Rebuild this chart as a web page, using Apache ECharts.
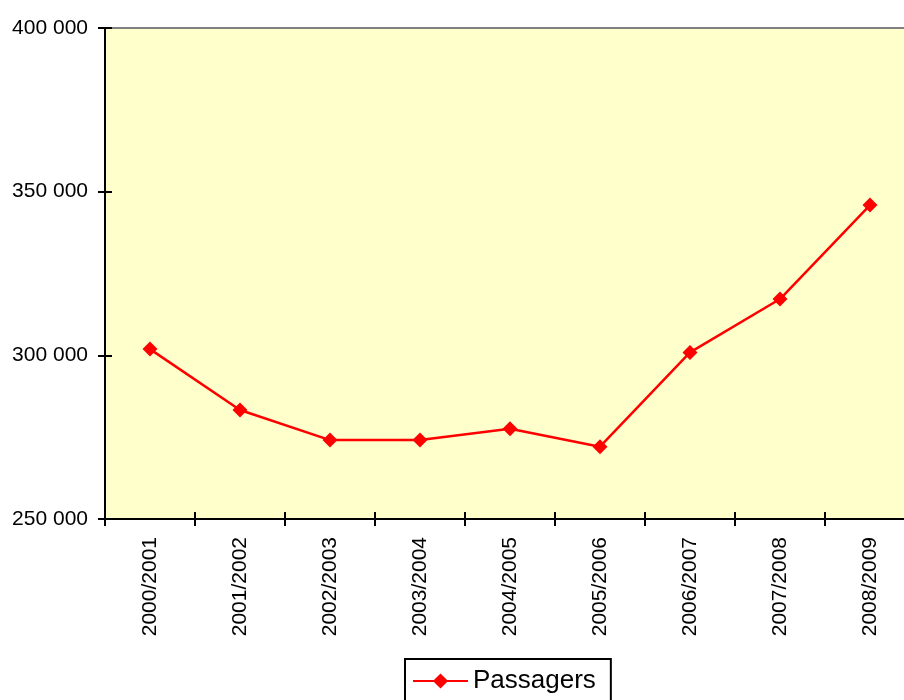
<!DOCTYPE html>
<html>
<head>
<meta charset="utf-8">
<script src="https://cdn.jsdelivr.net/npm/echarts@6/dist/echarts.min.js"></script>
<style>
html,body{margin:0;padding:0;background:#fff;}
#chart{width:904px;height:700px;}
</style>
</head>
<body>
<div id="chart"></div>
<script>
const categories = ['2000/2001','2001/2002','2002/2003','2003/2004','2004/2005','2005/2006','2006/2007','2007/2008','2008/2009'];
const passagers = [301900, 283300, 274100, 274100, 277600, 272100, 300900, 317200, 345900];
const seriesName = 'Passagers';
const yMin = 250000, yMax = 400000, yStep = 50000;

const font = '"Liberation Sans", Arial, sans-serif';
const chart = echarts.init(document.getElementById('chart'), null, {renderer: 'canvas'});
const fmt = v => String(v).replace(/\B(?=(\d{3})+(?!\d))/g, ' ');
const tickStyle = {color: '#000', width: 2};

chart.setOption({
  animation: false,
  backgroundColor: '#ffffff',
  grid: {
    left: 105, top: 28, width: 810, height: 491,
    outerBoundsMode: 'none', containLabel: false,
    show: true, backgroundColor: '#FFFFCC', borderColor: '#808080', borderWidth: 2
  },
  legend: {
    data: [seriesName],
    left: 405, top: 659,
    padding: [5, 15, 10, 7],
    borderColor: '#000', borderWidth: 2,
    itemWidth: 55, itemHeight: 19, itemGap: 8,
    textStyle: {fontFamily: font, fontSize: 26, color: '#000', lineHeight: 34}
  },
  xAxis: [{
    type: 'category', data: categories, position: 'bottom', boundaryGap: true,
    axisLine: {lineStyle: {color: '#000', width: 2}},
    axisTick: {show: true, length: 7, lineStyle: tickStyle},
    axisLabel: {rotate: 90, margin: 18, fontFamily: font, fontSize: 21, color: '#000', interval: 0},
    splitLine: {show: false}
  }, {
    type: 'category', data: categories, position: 'top', offset: -491, boundaryGap: true,
    axisLine: {show: true, lineStyle: {color: 'rgba(0,0,0,0)', width: 0}},
    axisTick: {show: true, length: 7, lineStyle: tickStyle},
    axisLabel: {show: false},
    splitLine: {show: false}
  }],
  yAxis: [{
    type: 'value', min: yMin, max: yMax, interval: yStep, position: 'left',
    axisLine: {show: true, lineStyle: {color: '#000', width: 2}},
    axisTick: {show: true, length: 7, lineStyle: tickStyle},
    axisLabel: {margin: 17, fontFamily: font, fontSize: 21, color: '#000', formatter: fmt},
    splitLine: {show: false}
  }, {
    type: 'value', min: yMin, max: yMax, interval: yStep, position: 'right', offset: -810,
    axisLine: {show: true, lineStyle: {color: 'rgba(0,0,0,0)', width: 0}},
    axisTick: {show: true, length: 7, lineStyle: tickStyle},
    axisLabel: {show: false},
    splitLine: {show: false}
  }],
  series: [{
    name: seriesName, type: 'line', data: passagers,
    xAxisIndex: 0, yAxisIndex: 0,
    symbol: 'diamond', symbolSize: 15,
    lineStyle: {color: '#FF0000', width: 2.5},
    itemStyle: {color: '#FF0000'},
    clip: false
  }]
});
</script>
</body>
</html>
